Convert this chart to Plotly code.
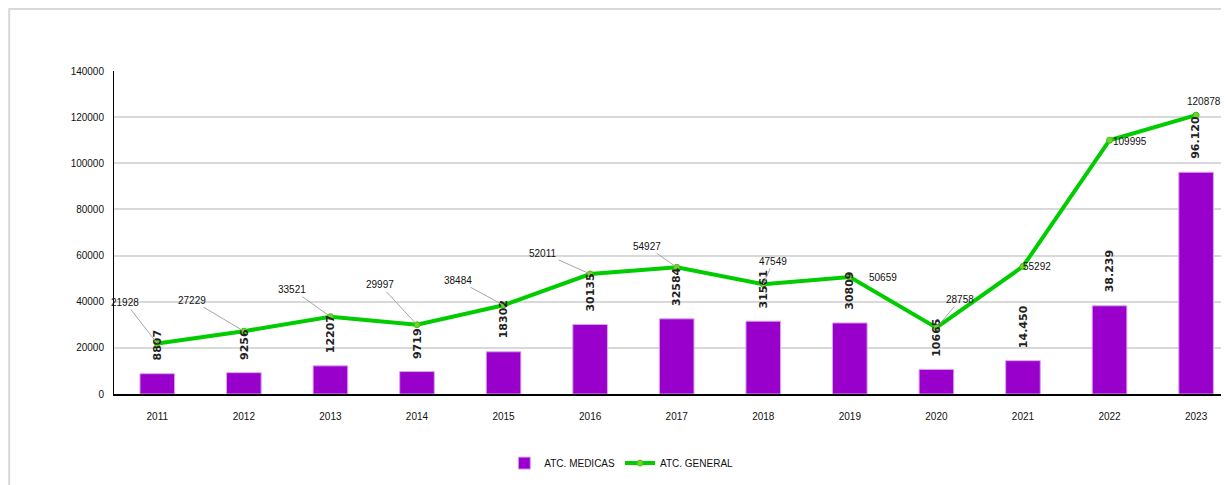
import plotly.graph_objects as go

years = ["2011", "2012", "2013", "2014", "2015", "2016", "2017", "2018", "2019", "2020", "2021", "2022", "2023"]
atc_medicas = [8807, 9256, 12207, 9719, 18302, 30135, 32584, 31561, 30809, 10665, 14450, 38239, 96120]
atc_medicas_labels = ["8807", "9256", "12207", "9719", "18302", "30135", "32584", "31561", "30809", "10665", "14.450", "38.239", "96.120"]
atc_general = [21928, 27229, 33521, 29997, 38484, 52011, 54927, 47549, 50659, 28758, 55292, 109995, 120878]
# label offsets (pixels) of the line's data labels relative to their points
gen_label_ax = [-32, -52, -38, -37, -46, -47, -30, 10, 33, 24, 14, 20, 8]
gen_label_ay = [-41, -31, -27, -40, -25, -21, -21, -23, 0, -28, 0, 1, -14]
y_ticks = [0, 20000, 40000, 60000, 80000, 100000, 120000, 140000]

SANS = "Liberation Sans, Arial, sans-serif"

fig = go.Figure()
fig.add_trace(go.Bar(
    x=years, y=atc_medicas, name="ATC. MEDICAS",
    marker=dict(color="#9900cc", line=dict(color="#d9a6ec", width=1)),
    width=0.4,
))
fig.add_trace(go.Scatter(
    x=years, y=atc_general, name="ATC. GENERAL", mode="lines+markers",
    line=dict(color="#00cc00", width=4),
    marker=dict(size=6, color="#7acc33", line=dict(color="#33cc00", width=1)),
))

annotations = []
for i, (v, lab) in enumerate(zip(atc_medicas, atc_medicas_labels)):
    annotations.append(dict(
        x=i, y=v, xref="x", yref="y", text=lab, textangle=-90, showarrow=False,
        xanchor="center", yanchor="bottom", yshift=11,
        font=dict(family="DejaVu Sans", size=11, color="#222222", weight="bold"),
    ))
for i, (v, ax, ay) in enumerate(zip(atc_general, gen_label_ax, gen_label_ay)):
    show = abs(ay) > 8 and i != len(atc_general) - 1
    annotations.append(dict(
        x=i, y=v, xref="x", yref="y", text=str(v), showarrow=True, arrowhead=0, arrowwidth=1,
        arrowcolor="#a6a6a6" if show else "rgba(255,255,255,0)", standoff=0,
        ax=ax, ay=ay,
        font=dict(family=SANS, size=10, color="#111111"),
    ))

fig.update_layout(
    width=1221, height=477,
    margin=dict(l=106, r=0, t=63, b=91),
    paper_bgcolor="white", plot_bgcolor="white",
    bargap=0.6,
    showlegend=True,
    legend=dict(orientation="h", x=0.455, xanchor="center", y=-0.214, yanchor="middle",
                font=dict(family=SANS, size=10, color="#111111"),
                traceorder="normal"),
    annotations=annotations,
    shapes=[dict(type="rect", xref="paper", yref="paper",
                 x0=-0.094, x1=1.2, y0=-0.4, y1=1.192,
                 line=dict(color="#d9d9d9", width=2), layer="below")],
    xaxis=dict(
        type="category", range=[-0.5, 12.38],
        showline=True, linecolor="#000000", linewidth=2,
        showgrid=False, ticks="", ticklabelstandoff=12,
        tickfont=dict(family=SANS, size=10, color="#111111"),
    ),
    yaxis=dict(
        range=[0, 140000], tickvals=y_ticks, tickformat="d",
        showline=True, linecolor="#000000", linewidth=1,
        showgrid=True, gridcolor="#d9d9d9", gridwidth=1.5,
        ticks="", ticklabelstandoff=7, zeroline=False,
        tickfont=dict(family=SANS, size=10, color="#111111"),
    ),
)

fig.write_html("out.html")
